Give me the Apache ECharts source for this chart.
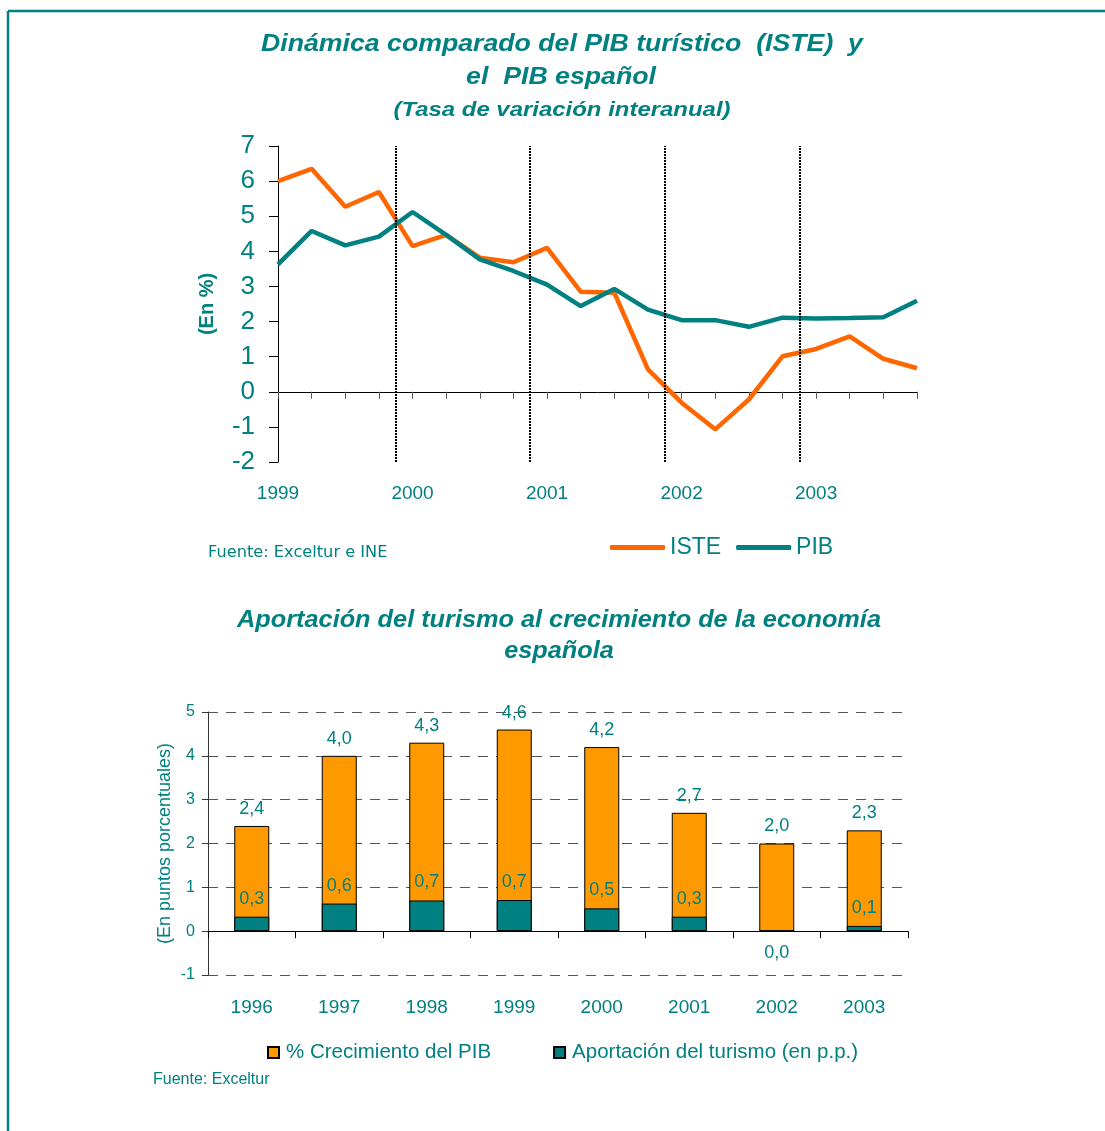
<!DOCTYPE html>
<html>
<head>
<meta charset="utf-8">
<script src="https://cdn.jsdelivr.net/npm/echarts@6/dist/echarts.min.js"></script>
<style>
html,body{margin:0;padding:0;background:#fff;}
#c{width:1105px;height:1131px;}
</style>
</head>
<body>
<div id="c"></div>
<script>
// ---------- Data: top chart (quarterly, 1999Q1 .. 2003Q4) ----------
const years = ['1999', '2000', '2001', '2002', '2003'];
const quartersPerYear = 4;
const iste = [6.0, 6.35, 5.27, 5.69, 4.15, 4.47, 3.82, 3.69, 4.10, 2.85, 2.82, 0.64, -0.31, -1.07, -0.22, 1.01, 1.22, 1.58, 0.94, 0.67];
const pib  = [3.63, 4.58, 4.17, 4.42, 5.12, 4.47, 3.77, 3.44, 3.05, 2.44, 2.93, 2.34, 2.04, 2.04, 1.85, 2.11, 2.09, 2.10, 2.12, 2.59];
const yearBreaks = [3.5, 7.5, 11.5, 15.5];
const topYTicks = { min: -2, max: 7, interval: 1 };

// ---------- Data: bottom chart ----------
const barYears = ['1996', '1997', '1998', '1999', '2000', '2001', '2002', '2003'];
const pibGrowth = [2.4, 4.0, 4.3, 4.6, 4.2, 2.7, 2.0, 2.3];
const tourismContribution = [0.33, 0.63, 0.70, 0.71, 0.52, 0.33, 0.0, 0.12];
const bottomYTicks = { min: -1, max: 5, interval: 1 };

const TEAL = '#008080';
const FONT = '"Liberation Sans", Arial, sans-serif';
const comma = v => v.toFixed(1).replace('.', ',');

const chart = echarts.init(document.getElementById('c'));

const txt = (text, x, y, size, opts = {}, sx = 1) => ({
  type: 'text', x: x, y: y, scaleX: sx, silent: true,
  style: Object.assign({
    text: text, fill: TEAL, fontSize: size, fontFamily: FONT,
    align: 'center', verticalAlign: 'middle'
  }, opts)
});
const BI = { fontWeight: 'bold', fontStyle: 'italic' };

const option = {
  animation: false,
  backgroundColor: '#fff',
  graphic: [
    { type: 'line', silent: true, shape: { x1: 8, y1: 11, x2: 1105, y2: 11 }, style: { stroke: TEAL, lineWidth: 2.5 } },
    { type: 'line', silent: true, shape: { x1: 8, y1: 11, x2: 8, y2: 1131 }, style: { stroke: TEAL, lineWidth: 2.5 } },
    txt('Dinámica comparado del PIB turístico  (ISTE)  y', 562, 45, 23, BI, 1.16),
    txt('el  PIB español', 561, 78, 23, BI, 1.16),
    txt('(Tasa de variación interanual)', 562, 110, 21, BI, 1.14),
    txt('Fuente: Exceltur e INE', 208, 553, 15, { align: 'left', fontFamily: '"DejaVu Sans", Verdana, sans-serif' }, 1.08),
    txt('Aportación del turismo al crecimiento de la economía', 559, 621, 23, BI, 1.1),
    txt('española', 559, 652, 23, BI, 1.1),
    txt('Fuente: Exceltur', 153, 1080, 16, { align: 'left' })
  ],
  legend: [
    {
      data: ['ISTE', 'PIB'],
      left: 605, top: 531,
      icon: 'roundRect', itemWidth: 55, itemHeight: 5, itemGap: 15,
      textStyle: { color: TEAL, fontSize: 23, fontFamily: FONT }
    },
    {
      data: ['% Crecimiento del PIB', 'Aportación del turismo (en p.p.)'],
      left: 262, top: 1037,
      icon: 'rect', itemWidth: 11, itemHeight: 11, itemGap: 62,
      textStyle: { color: TEAL, fontSize: 20.5, fontFamily: FONT, padding: [0, 0, 0, 2] }
    }
  ],
  grid: [
    { left: 278, top: 146, width: 639, height: 316 },
    { left: 208, top: 712, width: 700, height: 263 }
  ],
  xAxis: [
    {
      gridIndex: 0, type: 'value', min: 0, max: iste.length - 1, interval: 1,
      axisLine: { onZero: true, lineStyle: { color: '#000', width: 1 } },
      axisTick: { length: 7, lineStyle: { color: '#555' } },
      axisLabel: { show: false }, splitLine: { show: false }
    },
    {
      gridIndex: 0, type: 'value', min: 0, max: iste.length - 1, interval: 1, position: 'bottom',
      axisLine: { show: false, onZero: false }, axisTick: { show: false }, splitLine: { show: false },
      axisLabel: {
        color: TEAL, fontSize: 19, fontFamily: FONT, margin: 22,
        formatter: v => (v % quartersPerYear === 0 ? years[v / quartersPerYear] : '')
      }
    },
    {
      gridIndex: 1, type: 'category', data: barYears, position: 'bottom',
      axisLine: { show: false, onZero: false },
      axisTick: { show: false },
      axisLabel: { color: TEAL, fontSize: 19, fontFamily: FONT, margin: 23 }
    },
    {
      // zero line with tick marks at the category boundaries
      gridIndex: 1, type: 'value', min: 0, max: barYears.length, interval: 1, position: 'bottom',
      axisLine: { show: true, onZero: true, lineStyle: { color: '#000', width: 1 } },
      axisTick: { show: true, length: 7, lineStyle: { color: '#000' } },
      axisLabel: { show: false }, splitLine: { show: false }
    }
  ],
  yAxis: [
    {
      gridIndex: 0, type: 'value', min: topYTicks.min, max: topYTicks.max, interval: topYTicks.interval,
      axisLine: { show: true, lineStyle: { color: '#000', width: 1 } },
      axisTick: { show: true, length: 9, lineStyle: { color: '#000' } },
      axisLabel: { color: TEAL, fontSize: 26, fontFamily: FONT, margin: 23 },
      splitLine: { show: false },
      name: '(En %)', nameLocation: 'middle', nameGap: 61,
      nameTextStyle: { color: TEAL, fontSize: 20, fontWeight: 'bold', fontFamily: FONT }
    },
    {
      gridIndex: 1, type: 'value', min: bottomYTicks.min, max: bottomYTicks.max, interval: bottomYTicks.interval,
      axisLine: { show: true, lineStyle: { color: '#333', width: 1 } },
      axisTick: { show: true, length: 6, lineStyle: { color: '#333' } },
      axisLabel: { color: TEAL, fontSize: 16, fontFamily: FONT, margin: 13 },
      splitLine: { show: true, lineStyle: { color: '#555', width: 1, type: [10, 8] } },
      name: '(En puntos porcentuales)', nameLocation: 'middle', nameGap: 34, nameMoveOverlap: false,
      nameTextStyle: { color: TEAL, fontSize: 18, fontFamily: FONT }
    }
  ],
  series: [
    {
      name: 'ISTE', type: 'line', xAxisIndex: 0, yAxisIndex: 0,
      data: iste.map((v, i) => [i, v]),
      symbol: 'none', color: '#FF6600',
      lineStyle: { width: 4.5, color: '#FF6600' },
      markLine: {
        silent: true, symbol: ['none', 'none'], label: { show: false },
        lineStyle: { color: '#000', width: 2, type: [2, 1] },
        data: yearBreaks.map(x => ({ xAxis: x }))
      }
    },
    {
      name: 'PIB', type: 'line', xAxisIndex: 0, yAxisIndex: 0,
      data: pib.map((v, i) => [i, v]),
      symbol: 'none', color: TEAL,
      lineStyle: { width: 4.5, color: TEAL }
    },
    {
      name: '% Crecimiento del PIB', type: 'bar', xAxisIndex: 2, yAxisIndex: 1,
      data: pibGrowth, barWidth: 35,
      itemStyle: { color: '#FF9900', borderColor: '#000', borderWidth: 1 },
      label: { show: true, position: 'top', distance: 8, color: TEAL, fontSize: 18, fontFamily: FONT, formatter: p => comma(p.value) }
    },
    {
      name: 'Aportación del turismo (en p.p.)', type: 'bar', xAxisIndex: 2, yAxisIndex: 1,
      barGap: '-100%', barWidth: 35,
      data: tourismContribution.map(v => ({ value: v, label: { position: v <= 0 ? 'bottom' : 'top', distance: v <= 0 ? 12 : 9 } })),
      itemStyle: { color: TEAL, borderColor: '#000', borderWidth: 1 },
      label: { show: true, color: TEAL, fontSize: 18, fontFamily: FONT, formatter: p => comma(p.value) }
    }
  ]
};
chart.setOption(option);
</script>
</body>
</html>
